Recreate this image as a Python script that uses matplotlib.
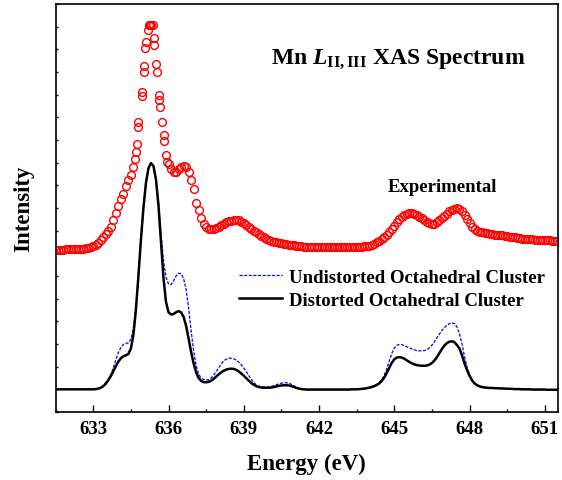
import numpy as np
import matplotlib
matplotlib.use("Agg")
import matplotlib.pyplot as plt
from matplotlib.ticker import MultipleLocator

plt.rcParams['font.family'] = ['Liberation Serif', 'DejaVu Serif']
plt.rcParams['font.weight'] = 'bold'
plt.rcParams['mathtext.fontset'] = 'custom'
plt.rcParams['mathtext.rm'] = 'Liberation Serif:bold'
plt.rcParams['mathtext.bf'] = 'Liberation Serif:bold'
plt.rcParams['mathtext.it'] = 'Liberation Serif:bold:italic'

# ---- experimental spectrum (red circles) ----
exp_e_low = np.round(np.arange(631.5, 634.65, 0.1), 2)
exp_i_low = [7.15, 7.15, 7.16, 7.16, 7.17, 7.17, 7.18, 7.18, 7.19, 7.19,
             7.20, 7.21, 7.22, 7.24, 7.27, 7.31, 7.37, 7.46, 7.57, 7.70,
             7.84, 7.98, 8.18, 8.45, 8.78, 9.10, 9.40, 9.62, 9.95, 10.25,
             10.45, 10.80]

exp_e_peak = [634.66, 634.70, 634.73, 634.78, 634.80, 634.93, 634.96, 635.01,
              635.03, 635.08, 635.10, 635.19, 635.23, 635.28, 635.32, 635.37,
              635.42, 635.43, 635.52, 635.54, 635.62, 635.63, 635.65, 635.76,
              635.81, 635.83, 635.89, 635.95]
exp_i_peak = [11.16, 11.45, 11.82, 12.57, 12.78, 13.95, 14.10, 14.99,
              15.28, 16.04, 16.33, 16.86, 17.07, 17.07, 17.07, 17.07,
              16.50, 16.19, 15.35, 15.01, 14.00, 13.76, 13.44, 12.78,
              12.22, 11.97, 11.34, 11.05]

exp_e_high = np.round(np.arange(636.0, 651.55, 0.1), 2)
exp_i_high = [10.95, 10.70, 10.58, 10.57, 10.70, 10.80, 10.86, 10.80, 10.57, 10.25,
              9.85, 9.20, 8.90, 8.58, 8.30, 8.16, 8.08, 8.06, 8.07, 8.10,
              8.16, 8.24, 8.31, 8.37, 8.41, 8.44, 8.47, 8.48, 8.47, 8.40,
              8.32, 8.23, 8.15, 8.06, 7.99, 7.92, 7.84, 7.76, 7.70, 7.64,
              7.59, 7.55, 7.52, 7.49, 7.47, 7.45, 7.43, 7.40, 7.38, 7.37,
              7.35, 7.33, 7.32, 7.31, 7.30, 7.29, 7.28, 7.28, 7.27, 7.27,
              7.27, 7.27, 7.27, 7.26, 7.26, 7.26, 7.26, 7.26, 7.27, 7.27,
              7.27, 7.27, 7.27, 7.27, 7.27, 7.28, 7.29, 7.30, 7.31, 7.32,
              7.34, 7.37, 7.42, 7.48, 7.55, 7.63, 7.72, 7.83, 7.93, 8.06,
              8.22, 8.37, 8.50, 8.62, 8.69, 8.73, 8.76, 8.76, 8.74, 8.70,
              8.62, 8.55, 8.46, 8.38, 8.33, 8.29, 8.31, 8.38, 8.47, 8.55,
              8.65, 8.75, 8.86, 8.93, 8.97, 8.98, 8.96, 8.86, 8.70, 8.50,
              8.32, 8.17, 8.07, 8.00, 7.96, 7.93, 7.90, 7.88, 7.86, 7.84,
              7.83, 7.81, 7.80, 7.79, 7.78, 7.76, 7.74, 7.72, 7.70, 7.68,
              7.66, 7.65, 7.64, 7.63, 7.62, 7.61, 7.60, 7.60, 7.59, 7.58,
              7.58, 7.57, 7.57, 7.56, 7.56, 7.55]

exp_energy = np.concatenate([exp_e_low, exp_e_peak, exp_e_high])
exp_intensity = np.concatenate([exp_i_low, exp_i_peak, exp_i_high])

# ---- calculated spectra ----
calc_energy = np.round(np.arange(631.5, 651.55, 0.1), 2)
distorted = [1.00, 1.00, 1.00, 1.00, 1.00, 1.00, 1.00, 1.00, 1.00, 1.00,   # 631.5
             1.00, 1.00, 1.00, 1.00, 1.00, 1.00, 1.01, 1.03, 1.07, 1.14,   # 632.5
             1.25, 1.40, 1.58, 1.80, 2.02, 2.22, 2.37, 2.46, 2.50, 2.56,   # 633.5
             2.80, 3.40, 4.50, 6.00, 7.60, 9.00, 10.10, 10.75, 10.98, 10.85,  # 634.5
             10.25, 9.10, 7.50, 5.90, 4.85, 4.40, 4.30, 4.32, 4.40, 4.45,  # 635.5
             4.40, 4.20, 3.80, 3.25, 2.65, 2.15, 1.75, 1.50, 1.37, 1.32,   # 636.5
             1.31, 1.33, 1.38, 1.46, 1.56, 1.66, 1.75, 1.82, 1.87, 1.90,   # 637.5
             1.91, 1.90, 1.86, 1.79, 1.70, 1.60, 1.49, 1.38, 1.28, 1.20,   # 638.5
             1.14, 1.10, 1.08, 1.07, 1.07, 1.07, 1.08, 1.10, 1.13, 1.15,   # 639.5
             1.17, 1.18, 1.18, 1.17, 1.14, 1.10, 1.06, 1.03, 1.01, 1.00,   # 640.5
             0.99, 0.99, 0.99, 0.99, 0.99, 0.99, 0.99, 0.99, 0.99, 0.99,   # 641.5
             0.99, 0.99, 0.99, 0.99, 0.99, 0.99, 0.99, 0.99, 1.00, 1.00,   # 642.5
             1.00, 1.01, 1.02, 1.03, 1.05, 1.07, 1.10, 1.14, 1.19, 1.26,   # 643.5
             1.37, 1.52, 1.72, 1.95, 2.17, 2.32, 2.40, 2.42, 2.40, 2.35,   # 644.5
             2.28, 2.21, 2.15, 2.10, 2.07, 2.05, 2.04, 2.04, 2.05, 2.09,   # 645.5
             2.16, 2.27, 2.42, 2.60, 2.78, 2.93, 3.04, 3.10, 3.12, 3.08,   # 646.5
             2.95, 2.80, 2.50, 2.15, 1.85, 1.60, 1.40, 1.26, 1.18, 1.13,   # 647.5
             1.10, 1.08, 1.07, 1.06, 1.06, 1.05, 1.05, 1.04, 1.04, 1.03,   # 648.5
             1.03, 1.02, 1.02, 1.01, 1.01, 1.01, 1.00, 1.00, 1.00, 1.00,   # 649.5
             0.99, 0.99, 0.99, 0.99, 0.99, 0.99, 0.98, 0.98, 0.98, 0.98,   # 650.5
             0.98]
undistorted = [1.00, 1.00, 1.00, 1.00, 1.00, 1.00, 1.00, 1.00, 1.00, 1.00,
               1.00, 1.00, 1.00, 1.00, 1.00, 1.00, 1.01, 1.04, 1.09, 1.17,
               1.30, 1.45, 1.65, 1.95, 2.30, 2.62, 2.85, 2.98, 3.03, 3.05,
               3.20, 3.70, 4.70, 6.05, 7.60, 9.00, 10.10, 10.75, 10.98, 10.85,
               10.30, 9.30, 7.90, 6.70, 5.95, 5.65, 5.62, 5.78, 6.00, 6.12,
               6.10, 5.90, 5.40, 4.60, 3.60, 2.70, 2.05, 1.68, 1.50, 1.43,
               1.41, 1.43, 1.50, 1.62, 1.78, 1.95, 2.12, 2.25, 2.33, 2.37,
               2.37, 2.35, 2.29, 2.20, 2.08, 1.94, 1.78, 1.60, 1.44, 1.30,
               1.20, 1.14, 1.11, 1.10, 1.10, 1.11, 1.13, 1.16, 1.20, 1.24,
               1.27, 1.29, 1.29, 1.27, 1.22, 1.16, 1.10, 1.05, 1.02, 1.00,
               0.99, 0.99, 0.99, 0.99, 0.99, 0.99, 0.99, 0.99, 0.99, 0.99,
               0.99, 0.99, 0.99, 0.99, 0.99, 0.99, 0.99, 0.99, 1.00, 1.00,
               1.00, 1.01, 1.02, 1.03, 1.05, 1.08, 1.11, 1.16, 1.22, 1.30,
               1.42, 1.62, 1.90, 2.25, 2.58, 2.82, 2.94, 2.98, 2.97, 2.93,
               2.88, 2.83, 2.78, 2.74, 2.71, 2.70, 2.70, 2.71, 2.75, 2.83,
               2.95, 3.10, 3.27, 3.44, 3.60, 3.73, 3.83, 3.90, 3.93, 3.90,
               3.75, 3.45, 3.00, 2.45, 1.98, 1.65, 1.42, 1.28, 1.20, 1.15,
               1.12, 1.10, 1.08, 1.07, 1.06, 1.05, 1.05, 1.04, 1.04, 1.03,
               1.03, 1.02, 1.02, 1.01, 1.01, 1.01, 1.00, 1.00, 1.00, 1.00,
               0.99, 0.99, 0.99, 0.99, 0.99, 0.99, 0.98, 0.98, 0.98, 0.98,
               0.98]

fig = plt.figure(figsize=(5.62, 4.81), dpi=100)
ax = fig.add_axes([0.099, 0.1414, 0.894, 0.8482])

ax.plot(exp_energy, exp_intensity, 'o', mfc='none', mec='#ff0000', ms=5.6, mew=1.0)
ax.plot(calc_energy, undistorted, color='#0000ff', lw=0.9, ls=(0, (2.5, 1.2)),
        label='Undistorted Octahedral Cluster')
ax.plot(calc_energy, distorted, color='black', lw=1.8,
        label='Distorted Octahedral Cluster')

ax.set_xlim(631.5, 651.53)
ax.set_ylim(0, 18)
ax.set_xticks([633, 636, 639, 642, 645, 648, 651])
ax.xaxis.set_minor_locator(MultipleLocator(1.5))
ax.yaxis.set_major_locator(MultipleLocator(1))
ax.set_yticklabels([])
ax.tick_params(axis='x', which='major', direction='in', length=5, width=1, labelsize=13.5, pad=6)
ax.tick_params(axis='x', which='minor', direction='in', length=2.5, width=1)
ax.tick_params(axis='y', which='major', direction='in', length=1.5, width=1, left=True, right=False)
for s in ax.spines.values():
    s.set_linewidth(1.2)
for lab in ax.get_xticklabels():
    lab.set_fontweight('bold')

ax.set_xlabel('Energy (eV)', fontsize=16.5, fontweight='bold', labelpad=11)
ax.set_ylabel('Intensity', fontsize=16.5, fontweight='bold', labelpad=12)

ax.text(0.682, 0.866, r'Mn $L_{\mathrm{II,III}}$ XAS Spectrum', transform=ax.transAxes,
        fontsize=17, fontweight='bold', ha='center', va='center')
ax.text(0.769, 0.553, 'Experimental', transform=ax.transAxes,
        fontsize=13.5, fontweight='bold', ha='center', va='center')

ax.legend(loc='upper left', bbox_to_anchor=(0.331, 0.392), frameon=False,
          handlelength=2.3, handletextpad=0.4, labelspacing=0.3,
          prop={'weight': 'bold', 'size': 13.5})

fig.savefig('out.png', dpi=100)
